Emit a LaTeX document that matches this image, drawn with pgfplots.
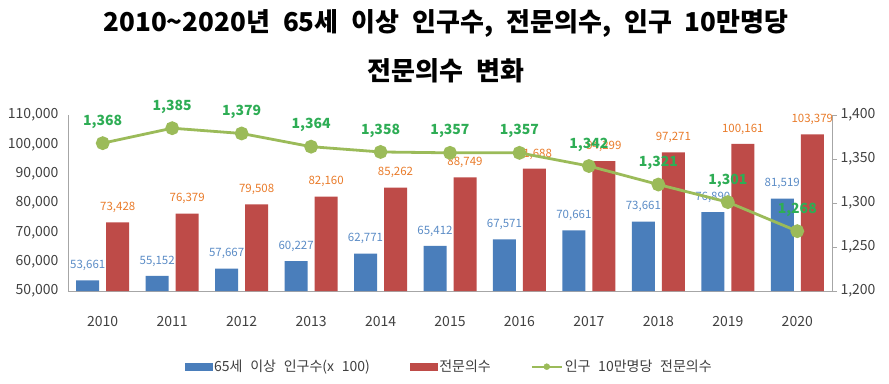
\documentclass[border=0pt]{standalone}
\usepackage{pgfplots}
\pgfplotsset{compat=1.18}
\usepackage{fontspec}
\setmainfont{Noto Sans CJK KR}
\definecolor{cblue}{HTML}{4A7EBB}
\definecolor{cred}{HTML}{BE4B48}
\definecolor{cgreen}{HTML}{9BBB59}
\definecolor{lblue}{HTML}{5B8CC6}
\definecolor{lorange}{HTML}{E97B2A}
\definecolor{lgreen}{HTML}{2EAD55}
\definecolor{axgray}{HTML}{A6A6A6}
\definecolor{txt}{HTML}{404040}
\newcommand\titlefont{\fontsize{26}{30}\selectfont\bfseries\spaceskip=0.5em\relax}
\newcommand\legfont{\fontsize{14}{16}\selectfont\spaceskip=0.55em\relax}
\begin{document}
\begin{tikzpicture}[x=1pt,y=1pt]
\path[use as bounding box] (0,0) rectangle (889,383);
\node[font=\titlefont, text=black] at (446,360) {2010\textasciitilde2020년 65세 이상 인구수, 전문의수, 인구 10만명당};
\node[font=\titlefont, text=black] at (446,312) {전문의수 변화};
\begin{axis}[
  at={(68pt,92pt)}, anchor=south west, scale only axis,
  width=764pt, height=176pt,
  xmin=-0.5, xmax=10.5, ymin=50000, ymax=110000,
  ytick={50000,60000,...,110000},
  scaled y ticks=false,
  xtick={0,...,10}, xticklabels={2010,2011,2012,2013,2014,2015,2016,2017,2018,2019,2020},
  axis x line*=bottom, axis y line*=left,
  axis line style={axgray, line width=0.8pt},
  x axis line style={-}, y axis line style={-},
  major tick length=0pt,
  tick label style={font=\fontsize{14}{16}\selectfont, text=txt},
  yticklabel style={xshift=-6pt},
  xticklabel style={yshift=-22pt},
  /pgf/number format/.cd, fixed, precision=0, 1000 sep={,}, assume math mode=true,
  /pgfplots/.cd,
  ybar, bar width=23pt,
  clip=false,
  legend style={at={(0.499,-0.43)}, anchor=center, legend columns=3, draw=none,
    font=\legfont, text=txt,
    /tikz/every even column/.append style={column sep=38pt}},
  legend cell align=left,
]
\addlegendimage{legend image code/.code={\fill[cblue] (-2pt,-3.5pt) rectangle (25pt,3.5pt);}}
\addlegendentry{65세 이상 인구수(x 100)}
\addlegendimage{legend image code/.code={\fill[cred] (-2pt,-3.5pt) rectangle (25pt,3.5pt);}}
\addlegendentry{전문의수}
\addlegendimage{legend image code/.code={\draw[cgreen, line width=2pt] (-2pt,0pt) -- (28pt,0pt); \fill[cgreen] (13pt,0pt) circle (3pt);}}
\addlegendentry{인구 10만명당 전문의수}
\addplot[fill=cblue, draw=none, bar shift=-15pt, forget plot,
  nodes near coords, every node near coord/.append style={lblue, font=\fontsize{11.5}{13}\selectfont, yshift=6pt}]
coordinates {(0,53661) (1,55152) (2,57667) (3,60227) (4,62771) (5,65412) (6,67571) (7,70661) (8,73661) (9,76890) (10,81519)};
\addplot[fill=cred, draw=none, bar shift=15pt, forget plot,
  nodes near coords, every node near coord/.append style={lorange, font=\fontsize{11.5}{13}\selectfont, yshift=6pt}]
coordinates {(0,73428) (1,76379) (2,79508) (3,82160) (4,85262) (5,88749) (6,91688) (7,94299) (8,97271) (9,100161) (10,103379)};
\end{axis}
\begin{axis}[
  at={(68pt,92pt)}, anchor=south west, scale only axis,
  width=764pt, height=176pt,
  xmin=-0.5, xmax=10.5, ymin=1200, ymax=1400,
  ytick={1200,1250,...,1400},
  axis x line=none, axis y line*=right,
  axis line style={axgray, line width=0.8pt},
  y axis line style={-},
  tick style={axgray, line width=0.8pt},
  ytick pos=right, tick align=outside, major tick length=5pt,
  tick label style={font=\fontsize{14}{16}\selectfont, text=txt},
  /pgf/number format/.cd, fixed, precision=0, 1000 sep={,}, assume math mode=true,
  /pgfplots/.cd,
  clip=false,
]
\addplot[cgreen, line width=2.8pt, mark=*, mark size=5.5pt, mark options={fill=cgreen, draw=cgreen},
  nodes near coords, every node near coord/.append style={lgreen, font=\fontsize{14}{16}\selectfont\bfseries, yshift=10pt}]
coordinates {(0,1368) (1,1385) (2,1379) (3,1364) (4,1358) (5,1357) (6,1357) (7,1342) (8,1321) (9,1301) (10,1268)};
\end{axis}
\end{tikzpicture}
\end{document}
